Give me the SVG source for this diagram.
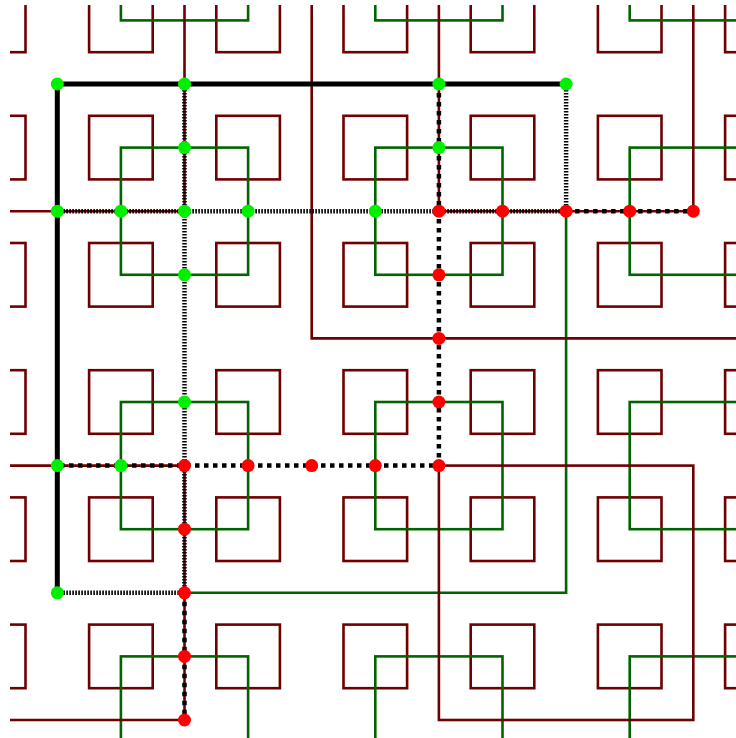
<svg xmlns="http://www.w3.org/2000/svg" width="736" height="738" viewBox="0 0 736 738">
<style>
.br{fill:none;stroke:#6e0000;stroke-width:2.6;stroke-linejoin:miter}
.gr{fill:none;stroke:#006400;stroke-width:2.6}
.solid{fill:none;stroke:#000;stroke-width:5}
.fine{fill:none;stroke:#000;stroke-width:4.5;stroke-dasharray:1.6 1.4}
.coarse{fill:none;stroke:#000;stroke-width:4.5;stroke-dasharray:4.5 4.5}
.g{fill:#00f000}
.r{fill:#ff0000}
</style>
<defs>
<clipPath id="clip"><rect x="10" y="5" width="726" height="733"/></clipPath>
</defs>
<rect width="736" height="738" fill="#fff"/>
<g clip-path="url(#clip)">
<g id="brown-squares" class="br">
<rect x="-38.1" y="-11.4" width="63.6" height="63.6"/><rect x="89.1" y="-11.4" width="63.6" height="63.6"/><rect x="216.3" y="-11.4" width="63.6" height="63.6"/><rect x="343.5" y="-11.4" width="63.6" height="63.6"/><rect x="470.7" y="-11.4" width="63.6" height="63.6"/><rect x="597.9" y="-11.4" width="63.6" height="63.6"/><rect x="725.1" y="-11.4" width="63.6" height="63.6"/>
<rect x="-38.1" y="115.8" width="63.6" height="63.6"/><rect x="89.1" y="115.8" width="63.6" height="63.6"/><rect x="216.3" y="115.8" width="63.6" height="63.6"/><rect x="343.5" y="115.8" width="63.6" height="63.6"/><rect x="470.7" y="115.8" width="63.6" height="63.6"/><rect x="597.9" y="115.8" width="63.6" height="63.6"/><rect x="725.1" y="115.8" width="63.6" height="63.6"/>
<rect x="-38.1" y="243" width="63.6" height="63.6"/><rect x="89.1" y="243" width="63.6" height="63.6"/><rect x="216.3" y="243" width="63.6" height="63.6"/><rect x="343.5" y="243" width="63.6" height="63.6"/><rect x="470.7" y="243" width="63.6" height="63.6"/><rect x="597.9" y="243" width="63.6" height="63.6"/><rect x="725.1" y="243" width="63.6" height="63.6"/>
<rect x="-38.1" y="370.2" width="63.6" height="63.6"/><rect x="89.1" y="370.2" width="63.6" height="63.6"/><rect x="216.3" y="370.2" width="63.6" height="63.6"/><rect x="343.5" y="370.2" width="63.6" height="63.6"/><rect x="470.7" y="370.2" width="63.6" height="63.6"/><rect x="597.9" y="370.2" width="63.6" height="63.6"/><rect x="725.1" y="370.2" width="63.6" height="63.6"/>
<rect x="-38.1" y="497.4" width="63.6" height="63.6"/><rect x="89.1" y="497.4" width="63.6" height="63.6"/><rect x="216.3" y="497.4" width="63.6" height="63.6"/><rect x="343.5" y="497.4" width="63.6" height="63.6"/><rect x="470.7" y="497.4" width="63.6" height="63.6"/><rect x="597.9" y="497.4" width="63.6" height="63.6"/><rect x="725.1" y="497.4" width="63.6" height="63.6"/>
<rect x="-38.1" y="624.6" width="63.6" height="63.6"/><rect x="89.1" y="624.6" width="63.6" height="63.6"/><rect x="216.3" y="624.6" width="63.6" height="63.6"/><rect x="343.5" y="624.6" width="63.6" height="63.6"/><rect x="470.7" y="624.6" width="63.6" height="63.6"/><rect x="597.9" y="624.6" width="63.6" height="63.6"/><rect x="725.1" y="624.6" width="63.6" height="63.6"/>
</g>
<g id="green-rects" class="gr">
<rect x="120.9" y="-106.8" width="127.2" height="127.2"/><rect x="375.3" y="-106.8" width="127.2" height="127.2"/><rect x="629.7" y="-106.8" width="127.2" height="127.2"/>
<rect x="120.9" y="147.6" width="127.2" height="127.2"/><rect x="375.3" y="147.6" width="127.2" height="127.2"/><rect x="629.7" y="147.6" width="127.2" height="127.2"/>
<rect x="120.9" y="402" width="127.2" height="127.2"/><rect x="375.3" y="402" width="127.2" height="127.2"/><rect x="629.7" y="402" width="127.2" height="127.2"/>
<rect x="120.9" y="656.4" width="127.2" height="127.2"/><rect x="375.3" y="656.4" width="127.2" height="127.2"/><rect x="629.7" y="656.4" width="127.2" height="127.2"/>
<path d="M566.1 211.2V592.8H184.5"/>
</g>
<g id="brown-lines" class="br">
<path d="M184.5 -10V211.2H-10"/>
<path d="M311.7 -10V338.4H750"/>
<path d="M438.9 -10V211.2H693.3V-10"/>
<path d="M-10 465.6H184.5V720H-10"/>
<rect x="438.9" y="465.6" width="254.4" height="254.4"/>
</g>
</g>
<g id="connectors">
<path class="solid" d="M566.1 84H57.3V592.8"/>
<path class="fine" d="M184.5 84V592.8"/>
<path class="fine" d="M566.1 84V211.2"/>
<path class="fine" d="M57.3 211.2H566.1"/>
<path class="fine" d="M57.3 592.8H184.5"/>
<path class="coarse" d="M438.9 84V465.6H57.3"/>
<path class="coarse" d="M566.1 211.2H693.3"/>
<path class="coarse" d="M184.5 592.8V720"/>
</g>
<g id="nodes">
<g id="g1"><circle class="g" cx="57.3" cy="84" r="6.5"/></g>
<g id="g2"><circle class="g" cx="184.5" cy="84" r="6.5"/></g>
<g id="g3"><circle class="g" cx="438.9" cy="84" r="6.5"/></g>
<g id="g4"><circle class="g" cx="566.1" cy="84" r="6.5"/></g>
<g id="g5"><circle class="g" cx="184.5" cy="147.6" r="6.5"/></g>
<g id="g6"><circle class="g" cx="438.9" cy="147.6" r="6.5"/></g>
<g id="g7"><circle class="g" cx="57.3" cy="211.2" r="6.5"/></g>
<g id="g8"><circle class="g" cx="120.9" cy="211.2" r="6.5"/></g>
<g id="g9"><circle class="g" cx="184.5" cy="211.2" r="6.5"/></g>
<g id="g10"><circle class="g" cx="248.1" cy="211.2" r="6.5"/></g>
<g id="g11"><circle class="g" cx="375.3" cy="211.2" r="6.5"/></g>
<g id="g12"><circle class="g" cx="184.5" cy="274.8" r="6.5"/></g>
<g id="g13"><circle class="g" cx="184.5" cy="402" r="6.5"/></g>
<g id="g14"><circle class="g" cx="57.3" cy="465.6" r="6.5"/></g>
<g id="g15"><circle class="g" cx="120.9" cy="465.6" r="6.5"/></g>
<g id="g16"><circle class="g" cx="57.3" cy="592.8" r="6.5"/></g>
<g id="r1"><circle class="r" cx="438.9" cy="211.2" r="6.5"/></g>
<g id="r2"><circle class="r" cx="502.5" cy="211.2" r="6.5"/></g>
<g id="r3"><circle class="r" cx="566.1" cy="211.2" r="6.5"/></g>
<g id="r4"><circle class="r" cx="629.7" cy="211.2" r="6.5"/></g>
<g id="r5"><circle class="r" cx="693.3" cy="211.2" r="6.5"/></g>
<g id="r6"><circle class="r" cx="438.9" cy="274.8" r="6.5"/></g>
<g id="r7"><circle class="r" cx="438.9" cy="338.4" r="6.5"/></g>
<g id="r8"><circle class="r" cx="438.9" cy="402" r="6.5"/></g>
<g id="r9"><circle class="r" cx="438.9" cy="465.6" r="6.5"/></g>
<g id="r10"><circle class="r" cx="375.3" cy="465.6" r="6.5"/></g>
<g id="r11"><circle class="r" cx="311.7" cy="465.6" r="6.5"/></g>
<g id="r12"><circle class="r" cx="248.1" cy="465.6" r="6.5"/></g>
<g id="r13"><circle class="r" cx="184.5" cy="465.6" r="6.5"/></g>
<g id="r14"><circle class="r" cx="184.5" cy="529.2" r="6.5"/></g>
<g id="r15"><circle class="r" cx="184.5" cy="592.8" r="6.5"/></g>
<g id="r16"><circle class="r" cx="184.5" cy="656.4" r="6.5"/></g>
<g id="r17"><circle class="r" cx="184.5" cy="720" r="6.5"/></g>
</g>
</svg>
